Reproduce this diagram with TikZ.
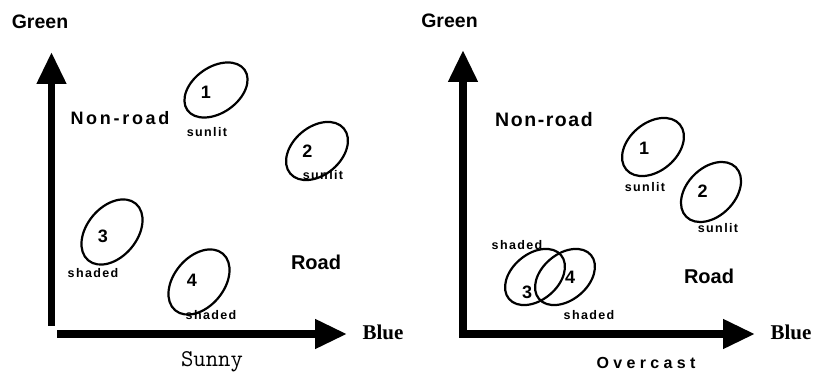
\documentclass[tikz,border=0pt]{standalone}
\usepackage{fontspec}
\setmainfont{Liberation Sans}
\newfontfamily\serifb{Liberation Serif}
\usetikzlibrary{arrows.meta,shapes.geometric}
\tikzset{
  axis/.style={line width=7.5pt,-{Triangle[length=32pt,width=28pt]}},
  blob/.style={draw,ellipse,line width=2.2pt,inner sep=0pt},
  lab/.style={font=\fontsize{20}{22}\selectfont\bfseries,inner sep=0pt,anchor=base},
  wide/.style={font=\fontsize{19.5}{21}\selectfont\bfseries\addfontfeature{LetterSpace=8},inner sep=0pt,anchor=base},
  num/.style={font=\fontsize{18}{20}\selectfont\bfseries,inner sep=0pt,anchor=base},
  small/.style={font=\fontsize{12.5}{14}\selectfont\bfseries\addfontfeature{LetterSpace=11},inner sep=0pt,anchor=base},
  bluelab/.style={font=\fontsize{21}{23}\selectfont\serifb\bfseries,inner sep=0pt,anchor=base},
}
\begin{document}
\begin{tikzpicture}[x=1pt,y=1pt]
\useasboundingbox (0,0) rectangle (814,374);
% ---------- left panel ----------
\coordinate (lv0) at (51.5,48);
\coordinate (lv1) at (51.5,322);
\coordinate (lh0) at (57,40);
\coordinate (lh1) at (347,40);
\draw[axis] (lv0) -- (lv1);
\draw[axis] (lh0) -- (lh1);
\node[lab,font=\fontsize{19.5}{21}\selectfont\bfseries] (lgreen) at (40,345.7) {Green};
\node[wide,font=\fontsize{18}{20}\selectfont\bfseries\addfontfeature{LetterSpace=15}] (lnonroad) at (120,249) {Non-road};
\node[lab] (lroad) at (316,104.3) {Road};
\node[bluelab] (lblue) at (383,34) {Blue};
\node[font=\fontsize{24}{26}\selectfont\ttfamily,inner sep=0pt,anchor=base] (sunny) at (212,7) {Sunny};
\node[blob,minimum width=70pt,minimum height=46pt,rotate=35] (le1) at (216,284) {};
\node[blob,minimum width=70pt,minimum height=48pt,rotate=40] (le2) at (317,223) {};
\node[blob,minimum width=74pt,minimum height=50pt,rotate=50] (le3) at (112,142) {};
\node[blob,minimum width=74pt,minimum height=50pt,rotate=50] (le4) at (199,92) {};
\node[num] (ln1) at (206,275.7) {1};
\node[num] (ln2) at (307.5,216) {2};
\node[num] (ln3) at (103,131) {3};
\node[num] (ln4) at (192,87) {4};
\node[small] (ls1) at (207,237) {sunlit};
\node[small] (ls2) at (323,194) {sunlit};
\node[small] (ls3) at (93,96) {shaded};
\node[small] (ls4) at (211,54) {shaded};
% ---------- right panel ----------
\coordinate (rv0) at (463,36.25);
\coordinate (rv1) at (463,324);
\coordinate (rh0) at (459.25,40);
\coordinate (rh1) at (755,40);
\draw[axis] (rv0) -- (rv1);
\draw[axis] (rh0) -- (rh1);
\node[lab,font=\fontsize{19.5}{21}\selectfont\bfseries] (rgreen) at (449.5,346) {Green};
\node[wide] (rnonroad) at (544,247) {Non-road};
\node[lab] (rroad) at (709,90) {Road};
\node[bluelab] (rblue) at (791,34) {Blue};
\node[font=\fontsize{16}{18}\selectfont\bfseries\addfontfeature{LetterSpace=27},inner sep=0pt,anchor=base] (overcast) at (646,5.7) {Overcast};
\node[blob,minimum width=70pt,minimum height=48pt,rotate=40] (re1) at (653,227) {};
\node[blob,minimum width=70pt,minimum height=48pt,rotate=45] (re2) at (711,182) {};
\node[blob,minimum width=68pt,minimum height=46pt,rotate=40] (re3) at (535,97) {};
\node[blob,minimum width=68pt,minimum height=46pt,rotate=40] (re4) at (565,97) {};
\node[num] (rn1) at (644,219) {1};
\node[num] (rn2) at (702.5,176) {2};
\node[num] (rn3) at (527,75) {3};
\node[num] (rn4) at (570,90) {4};
\node[small] (rs1) at (645,182.3) {sunlit};
\node[small] (rs2) at (718,141) {sunlit};
\node[small] (rs3) at (517,124) {shaded};
\node[small] (rs4) at (589,54) {shaded};
\end{tikzpicture}
\end{document}
